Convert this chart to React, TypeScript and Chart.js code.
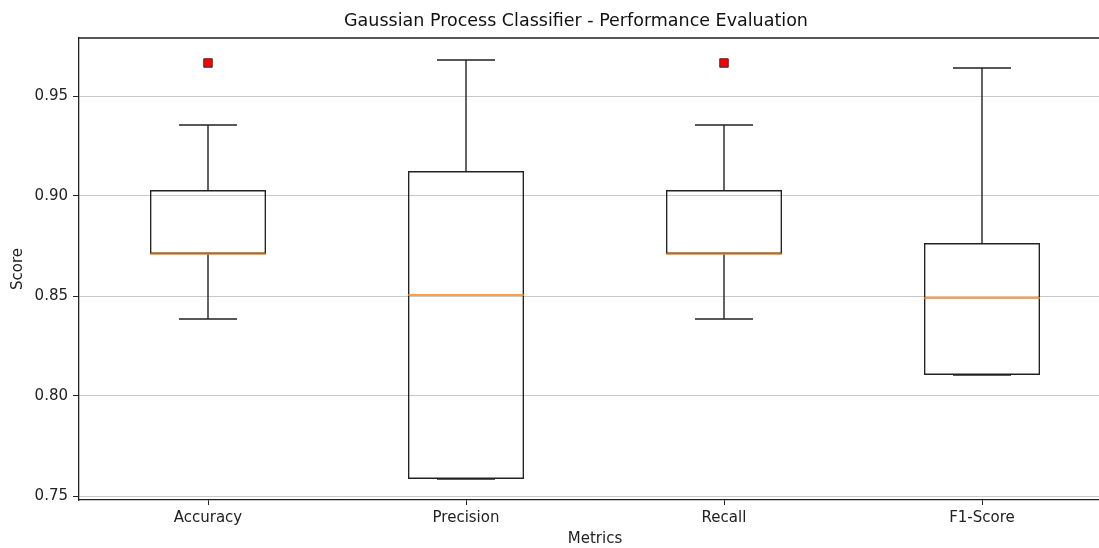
import React, { useEffect, useRef } from "react";
import { Chart, registerables } from "chart.js";

Chart.register(...registerables);

const categories = ["Accuracy", "Precision", "Recall", "F1-Score"];
const q1Values = [0.871, 0.7585, 0.871, 0.8105];
const q3Values = [0.903, 0.9125, 0.903, 0.8765];
const medians = [0.871, 0.8505, 0.871, 0.849];
const whiskerLow = [0.8385, 0.7585, 0.8385, 0.8105];
const whiskerHigh = [0.9355, 0.968, 0.9355, 0.964];
const outliers = [0.9665, null, 0.9665, null];
const yTicks = [0.75, 0.8, 0.85, 0.9, 0.95];
const yMin = 0.748;
const yMax = 0.979;

const BOX_FRACTION = 0.45;
const CAP_FRACTION = 0.225;

const boxPlugin = {
  id: "boxParts",
  afterDatasetsDraw(chart: any) {
    const { ctx, scales, chartArea } = chart;
    const x = scales.x;
    const y = scales.y;
    const step = x.width / categories.length;
    ctx.save();
    categories.forEach((_, i) => {
      const cx = x.getPixelForValue(i);
      const capHalf = (step * CAP_FRACTION) / 2;
      const boxHalf = (step * BOX_FRACTION) / 2;
      ctx.strokeStyle = "#222";
      ctx.lineWidth = 1.4;
      ctx.beginPath();
      ctx.moveTo(cx, y.getPixelForValue(q3Values[i]));
      ctx.lineTo(cx, y.getPixelForValue(whiskerHigh[i]));
      ctx.moveTo(cx - capHalf, y.getPixelForValue(whiskerHigh[i]));
      ctx.lineTo(cx + capHalf, y.getPixelForValue(whiskerHigh[i]));
      ctx.moveTo(cx, y.getPixelForValue(q1Values[i]));
      ctx.lineTo(cx, y.getPixelForValue(whiskerLow[i]));
      ctx.moveTo(cx - capHalf, y.getPixelForValue(whiskerLow[i]));
      ctx.lineTo(cx + capHalf, y.getPixelForValue(whiskerLow[i]));
      ctx.stroke();
      ctx.strokeStyle = "#ff7f0e";
      ctx.lineWidth = 1.6;
      ctx.beginPath();
      ctx.moveTo(cx - boxHalf, y.getPixelForValue(medians[i]));
      ctx.lineTo(cx + boxHalf, y.getPixelForValue(medians[i]));
      ctx.stroke();
    });
    ctx.strokeStyle = "#222";
    ctx.lineWidth = 1.3;
    ctx.beginPath();
    ctx.moveTo(chartArea.left, chartArea.top);
    ctx.lineTo(chartArea.right, chartArea.top);
    ctx.lineTo(chartArea.right, chartArea.bottom);
    ctx.stroke();
    ctx.restore();
  },
};

export default function App() {
  const ref = useRef<HTMLCanvasElement | null>(null);
  useEffect(() => {
    if (!ref.current) return;
    Chart.defaults.font.family = "'DejaVu Sans', sans-serif";
    const chart = new Chart(ref.current, {
      type: "bar",
      data: {
        labels: categories,
        datasets: [
          {
            type: "bar",
            data: q1Values.map((q, i) => [q, q3Values[i]]) as any,
            backgroundColor: "rgba(0,0,0,0)",
            borderColor: "#222",
            borderWidth: 1.4,
            borderSkipped: false,
            barPercentage: BOX_FRACTION,
            categoryPercentage: 1,
          },
          {
            type: "line",
            data: outliers as any,
            showLine: false,
            pointStyle: "rect",
            pointRadius: 6,
            pointBackgroundColor: "#ff0000",
            pointBorderColor: "#333",
            pointBorderWidth: 1,
          } as any,
        ],
      },
      options: {
        responsive: false,
        animation: false,
        layout: { padding: 0 },
        plugins: {
          legend: { display: false },
          tooltip: { enabled: false },
          title: {
            display: true,
            text: "Gaussian Process Classifier - Performance Evaluation",
            color: "#111",
            font: { size: 17.5, weight: "normal", lineHeight: 1.2 },
            padding: { top: 11, bottom: 6 },
          },
        },
        scales: {
          x: {
            type: "category",
            offset: true,
            grid: {
              display: true,
              offset: false,
              drawOnChartArea: false,
              drawTicks: true,
              tickLength: 5,
              tickColor: "#222",
            },
            border: { display: true, color: "#222", width: 1.3 },
            ticks: { color: "#222", font: { size: 15 }, padding: 4, maxRotation: 0 },
            title: {
              display: true,
              text: "Metrics",
              color: "#222",
              font: { size: 15, lineHeight: 1.2 },
              padding: { top: 0, bottom: 0 },
            },
            afterFit: (s: any) => {
              s.height = 48;
            },
          },
          y: {
            type: "linear",
            min: yMin,
            max: yMax,
            grid: {
              color: "#c8c8c8",
              lineWidth: 1,
              drawTicks: true,
              tickLength: 6,
              tickColor: "#222",
            },
            border: { display: true, color: "#222", width: 1.3 },
            afterBuildTicks: (s: any) => {
              s.ticks = yTicks.map((v) => ({ value: v }));
            },
            ticks: {
              color: "#222",
              font: { size: 15 },
              padding: 5,
              callback: (v: any) => Number(v).toFixed(2),
            },
            title: {
              display: true,
              text: "Score",
              color: "#222",
              font: { size: 15, lineHeight: 1.2 },
              padding: { top: 9, bottom: 0 },
            },
            afterFit: (s: any) => {
              s.width = 79;
            },
          },
          yRight: {
            type: "linear",
            position: "right",
            display: true,
            grid: { display: false },
            border: { display: false },
            ticks: { display: false },
            afterFit: (s: any) => {
              s.width = 41;
            },
          },
        },
      },
      plugins: [boxPlugin],
    });
    return () => chart.destroy();
  }, []);
  return (
    <div
      style={{
        position: "absolute",
        left: 0,
        top: 0,
        width: 1099,
        height: 548,
        overflow: "hidden",
        background: "#fff",
      }}
    >
      <canvas ref={ref} width={1152} height={548} style={{ display: "block" }} />
    </div>
  );
}
